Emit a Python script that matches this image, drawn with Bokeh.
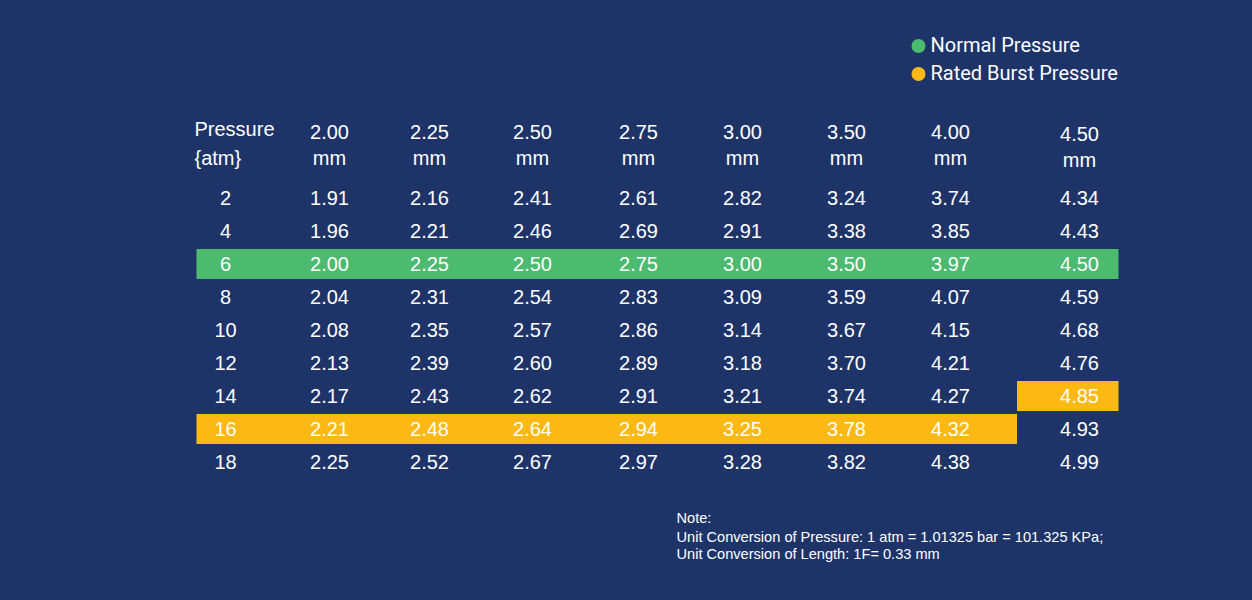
from bokeh.plotting import figure
from bokeh.models import Range1d
from bokeh.embed import file_html
from bokeh.resources import INLINE
from bokeh.core.properties import value

# ---------------- data ----------------
pressures = [2, 4, 6, 8, 10, 12, 14, 16, 18]
sizes = ["2.00", "2.25", "2.50", "2.75", "3.00", "3.50", "4.00", "4.50"]
d200 = [1.91, 1.96, 2.00, 2.04, 2.08, 2.13, 2.17, 2.21, 2.25]
d225 = [2.16, 2.21, 2.25, 2.31, 2.35, 2.39, 2.43, 2.48, 2.52]
d250 = [2.41, 2.46, 2.50, 2.54, 2.57, 2.60, 2.62, 2.64, 2.67]
d275 = [2.61, 2.69, 2.75, 2.83, 2.86, 2.89, 2.91, 2.94, 2.97]
d300 = [2.82, 2.91, 3.00, 3.09, 3.14, 3.18, 3.21, 3.25, 3.28]
d350 = [3.24, 3.38, 3.50, 3.59, 3.67, 3.70, 3.74, 3.78, 3.82]
d400 = [3.74, 3.85, 3.97, 4.07, 4.15, 4.21, 4.27, 4.32, 4.38]
d450 = [4.34, 4.43, 4.50, 4.59, 4.68, 4.76, 4.85, 4.93, 4.99]
columns = [d200, d225, d250, d275, d300, d350, d400, d450]
normal_pressure = 6
burst_pressure = [16, 16, 16, 16, 16, 16, 16, 14]
legend_labels = ["Normal Pressure", "Rated Burst Pressure"]
note_lines = ["Note:",
              "Unit Conversion of Pressure: 1 atm = 1.01325 bar = 101.325 KPa;",
              "Unit Conversion of Length: 1F= 0.33 mm"]

# ---------------- layout / style ----------------
BG = "#1e3469"
GREEN = "#4cba6f"
YELLOW = "#fdb913"
WHITE = "#ffffff"
FONT = "Liberation Sans"
TXT_DY = -8  # svg text baseline compensation

row_y0, row_step = 198, 33
col_x = [225, 329, 429, 532, 638, 742, 846, 950, 1079]          # text centres (pressure col + 8 sizes)
cell_edges = [196, 276, 380, 482, 586, 690, 794, 898, 1016.5, 1118]
band_h = 30

def row_y(i):
    return row_y0 + row_step * i

W, H = 1236, 584
p = figure(width=W, height=H, output_backend="svg", toolbar_location=None,
           x_range=Range1d(0, W), y_range=Range1d(H, 0),
           min_border=0, background_fill_color=BG, border_fill_color=BG)
p.axis.visible = False
p.grid.visible = False
p.outline_line_color = None

# highlight bands: row index per table column (pressure col shares first size col)
normal_rows = [pressures.index(normal_pressure)] * len(col_x)
burst_rows = [pressures.index(burst_pressure[0])] + [pressures.index(b) for b in burst_pressure]

def runs(rows):
    out = []
    start = 0
    for c in range(1, len(rows) + 1):
        if c == len(rows) or rows[c] != rows[start]:
            out.append((cell_edges[start], cell_edges[c], rows[start]))
            start = c
    return out

for rows, color in ((normal_rows, GREEN), (burst_rows, YELLOW)):
    L, R, T, B = [], [], [], []
    for left, right, r in runs(rows):
        yc = row_y(r) - 0.5
        L.append(left); R.append(right); T.append(yc - band_h / 2); B.append(yc + band_h / 2)
    p.quad(left=L, right=R, top=T, bottom=B, fill_color=color, line_color=None)

# body text
tx, ty, tt = [], [], []
for i, pr in enumerate(pressures):
    tx.append(col_x[0]); ty.append(row_y(i) + 7 + TXT_DY); tt.append(str(pr))
    for c, col in enumerate(columns):
        tx.append(col_x[c + 1]); ty.append(row_y(i) + 7 + TXT_DY); tt.append(f"{col[i]:.2f}")
p.text(x=tx, y=ty, text=tt, text_color=WHITE, text_font=value(FONT), text_font_size="20px",
       text_align="center", text_baseline="alphabetic")

# header
p.text(x=[194, 194], y=[136 + TXT_DY, 165 + TXT_DY], text=["Pressure", "{atm}"], text_color=WHITE,
       text_font=value(FONT), text_font_size="20px", text_align="left", text_baseline="alphabetic")
hx, hy, ht = [], [], []
for c, s in enumerate(sizes):
    off = 2.5 if c == len(sizes) - 1 else 0
    hx += [col_x[c + 1], col_x[c + 1]]
    hy += [139 + off + TXT_DY, 165 + off + TXT_DY]
    ht += [s, "mm"]
p.text(x=hx, y=hy, text=ht, text_color=WHITE, text_font=value(FONT), text_font_size="20px",
       text_align="center", text_baseline="alphabetic")

# legend
p.scatter(x=[918, 918], y=[45.5, 73.5], size=14, marker="circle",
          fill_color=[GREEN, YELLOW], line_color=None)
p.text(x=[930, 930], y=[52 + TXT_DY, 80 + TXT_DY], text=legend_labels, text_color=WHITE,
       text_font=value("Roboto"), text_font_size="20px", text_align="left", text_baseline="alphabetic")

# note
p.text(x=[676] * 3, y=[525.5 + TXT_DY, 544 + TXT_DY, 561.5 + TXT_DY], text=note_lines, text_color=WHITE,
       text_font=value(FONT), text_font_size="14.6px", text_align="left", text_baseline="alphabetic")

html = file_html(p, INLINE)
html = html.replace("</head>", "<style>html,body{background:%s;}</style></head>" % BG, 1)
open("out.html", "w").write(html)
